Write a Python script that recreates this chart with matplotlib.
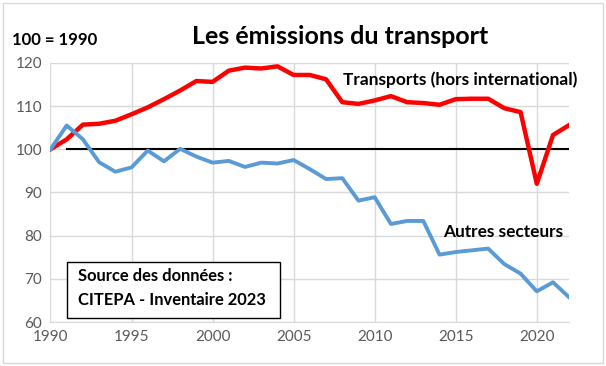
import matplotlib.pyplot as plt
from matplotlib.patches import Rectangle

plt.rcParams['font.family'] = ['Lato', 'DejaVu Sans']

years = list(range(1990, 2023))
transports = [100, 102.3, 105.7, 105.9, 106.6, 108.1, 109.7, 111.6, 113.6, 115.8,
              115.6, 118.2, 118.9, 118.7, 119.2, 117.2, 117.2, 116.2, 110.9, 110.5,
              111.3, 112.3, 110.9, 110.7, 110.3, 111.6, 111.7, 111.7, 109.5, 108.6,
              92.0, 103.3, 105.6]
autres = [100, 105.5, 102.3, 97.0, 94.8, 95.8, 99.7, 97.2, 100.1, 98.3,
          96.9, 97.3, 95.9, 96.9, 96.7, 97.5, 95.4, 93.1, 93.3, 88.1,
          88.9, 82.7, 83.4, 83.4, 75.6, 76.2, 76.6, 77.0, 73.4, 71.2,
          67.1, 69.2, 65.7]
ref_years = years[1:]
ref = [100] * len(ref_years)

fig = plt.figure(figsize=(6.06, 3.66), dpi=100)
ax = fig.add_axes([0.0833, 0.1202, 0.856, 0.708])

ax.plot(years, transports, color='#ff0000', lw=3.2, solid_joinstyle='round', zorder=3)
ax.plot(years, autres, color='#5b9bd5', lw=2.8, solid_joinstyle='round', zorder=3)
ax.plot(ref_years, ref, color='black', lw=1.5, zorder=2)

ax.set_xlim(1990, 2022)
ax.set_ylim(60, 120)
ax.set_xticks(range(1990, 2021, 5))
ax.set_yticks(range(60, 121, 10))
ax.grid(True, color='#d9d9d9', lw=1)
ax.set_axisbelow(True)
for s in ['top', 'right', 'left']:
    ax.spines[s].set_visible(False)
ax.spines['bottom'].set_color('#d9d9d9')
ax.tick_params(length=0, labelsize=11, colors='#595959', pad=6)

fig.text(0.561, 0.899, 'Les émissions du transport', fontsize=18, fontweight='bold',
         ha='center', va='center')
fig.text(0.02, 0.891, '100 = 1990', fontsize=12, fontweight='bold', ha='left', va='center')

ax.text(2015.3, 116.1, 'Transports (hors international)', fontsize=12.5,
        fontweight='bold', ha='center', va='center')
ax.text(2017.9, 80.9, 'Autres secteurs', fontsize=12.4, fontweight='bold',
        ha='center', va='center')

# encadré source
fig.patches.append(Rectangle((67 / 606, 1 - 318 / 366), 213 / 606, 56 / 366,
                             transform=fig.transFigure, fill=True, facecolor='white',
                             edgecolor='black', lw=1, zorder=5))
fig.text(78 / 606, 1 - 276 / 366, 'Source des données :', fontsize=11.9,
         fontweight='bold', va='center', zorder=6)
fig.text(78 / 606, 1 - 300 / 366, 'CITEPA - Inventaire 2023', fontsize=11.9,
         fontweight='bold', va='center', zorder=6)

# bordure du graphique
fig.patches.append(Rectangle((3 / 606, 3 / 366), 600 / 606, 360 / 366,
                             transform=fig.transFigure, fill=False,
                             edgecolor='#d9d9d9', lw=1))

fig.savefig('out.png', dpi=100)
